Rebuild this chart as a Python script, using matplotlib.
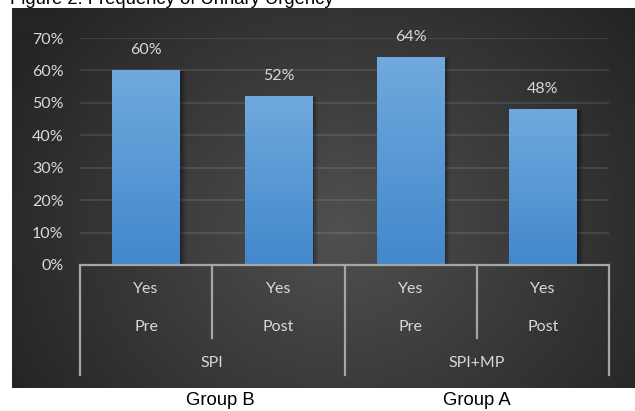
import numpy as np
import matplotlib
matplotlib.use("Agg")
import matplotlib.pyplot as plt
import matplotlib.transforms as mtransforms
from matplotlib.colors import LinearSegmentedColormap

# ---- data ----
answers = ["Yes", "Yes", "Yes", "Yes"]
phases = ["Pre", "Post", "Pre", "Post"]
treatments = ["SPI", "SPI+MP"]
groups = ["Group B", "Group A"]
urgency = [0.60, 0.52, 0.64, 0.48]
value_labels = ["60%", "52%", "64%", "48%"]
y_ticks = [0.0, 0.1, 0.2, 0.3, 0.4, 0.5, 0.6, 0.7]

W, H = 635, 411
fig = plt.figure(figsize=(W / 100, H / 100), dpi=100)
fig.patch.set_facecolor("white")

def fx(px):
    return px / W

def fy(py):
    return 1 - py / H

# ---- dark panel with radial gradient ----
px0, py0, px1, py1 = 12, 8, 635, 388
bg = fig.add_axes([fx(px0), fy(py1), fx(px1 - px0), fy(py0) - fy(py1)], zorder=0)
gx = np.arange(px0, px1)
gy = np.arange(py0, py1)
GX, GY = np.meshgrid(gx, gy)
d = np.sqrt(((GX - 340) / 1.15) ** 2 + (GY - 230) ** 2)
d = np.clip(d / 330, 0, 1)
lev = 0x50 * (1 - d) + 0x24 * d
img = np.dstack([lev, lev, lev]) / 255.0
bg.imshow(img, aspect="auto", extent=(0, 1, 0, 1), origin="upper")
bg.set_axis_off()

# ---- main axes ----
ax_l, ax_r, ax_b, ax_t = 80, 609, 265, 38
ax = fig.add_axes([fx(ax_l), fy(ax_b), fx(ax_r - ax_l), fy(ax_t) - fy(ax_b)], zorder=1)
ax.patch.set_alpha(0)
x = np.arange(len(urgency))
ax.set_xlim(-0.5, len(urgency) - 0.5)
ax.set_ylim(0, 0.7)

for s in ax.spines.values():
    s.set_visible(False)

txt_col = "#d9d9d9"
font = "Lato"
fs = 11.5

# gridlines
for t in y_ticks[1:]:
    ax.axhline(t, color="white", alpha=0.11, lw=1.3, zorder=1)

ax.set_yticks(y_ticks)
ax.set_yticklabels([f"{int(round(t * 100))}%" for t in y_ticks],
                   fontfamily=font, fontsize=fs, color=txt_col)
ax.tick_params(axis="y", length=0, pad=12)
ax.set_xticks([])

# bar shadows
bw = 0.51
for dx, a in [(2, 0.18), (4, 0.14), (6, 0.10)]:
    tr = mtransforms.offset_copy(ax.transData, fig=fig, x=dx, y=-1, units="dots")
    ax.bar(x, urgency, width=bw, color="black", alpha=a, transform=tr,
           zorder=2, linewidth=0)

# bars with vertical gradient fill
bars = ax.bar(x, urgency, width=bw, color="#5a9ad6", zorder=3, linewidth=0)
grad = LinearSegmentedColormap.from_list("bar", ["#4188cc", "#70a9dd"])
ramp = np.linspace(0, 1, 256).reshape(-1, 1)
for b in bars:
    x0 = b.get_x()
    h = b.get_height()
    im = ax.imshow(ramp, cmap=grad, aspect="auto", origin="lower",
                   extent=(x0, x0 + b.get_width(), 0, h), zorder=4)
    im.set_clip_path(b)
ax.set_xlim(-0.5, len(urgency) - 0.5)
ax.set_ylim(0, 0.7)

# value labels
for xi, v, lab in zip(x, urgency, value_labels):
    ax.annotate(lab, (xi, v), xytext=(0, 15), textcoords="offset points",
                ha="center", va="center", fontfamily=font, fontsize=fs,
                color=txt_col, annotation_clip=False)

# ---- multi-level category axis ----
line_col = "#a6a6a6"
trans = ax.get_xaxis_transform()
ax_h = ax_b - ax_t

def ay(py):
    return (ax_b - py) / ax_h

ax.plot([-0.5, len(urgency) - 0.5], [0, 0], color=line_col, lw=1.6,
        transform=trans, clip_on=False, zorder=5)
for xv in np.arange(-0.5, len(urgency), 1.0):
    long_line = abs((xv + 0.5) % 2) < 1e-9
    bottom = 375 if long_line else 338
    ax.plot([xv, xv], [0, ay(bottom)], color=line_col, lw=1.6,
            transform=trans, clip_on=False, zorder=5)

for xi, a_lab, p_lab in zip(x, answers, phases):
    ax.text(xi, ay(289), a_lab, transform=trans, ha="center", va="center",
            fontfamily=font, fontsize=fs, color=txt_col)
    ax.text(xi, ay(327), p_lab, transform=trans, ha="center", va="center",
            fontfamily=font, fontsize=fs, color=txt_col)

for gi, t_lab in enumerate(treatments):
    ax.text(gi * 2 + 0.5, ay(363), t_lab, transform=trans, ha="center",
            va="center", fontfamily=font, fontsize=fs, color=txt_col)

# group captions below the panel
for g_lab, gpx in zip(groups, [220, 477]):
    fig.text(fx(gpx), fy(400), g_lab, ha="center", va="center",
             fontfamily="Liberation Sans", fontsize=13.3, color="black")

# title, mostly above the top edge
fig.text(fx(10), fy(4), "Figure 2: Frequency of Urinary Urgency", ha="left",
         va="baseline", fontfamily="Liberation Sans", fontsize=13.3,
         color="black", zorder=-1)

fig.savefig("out.png", dpi=100)
